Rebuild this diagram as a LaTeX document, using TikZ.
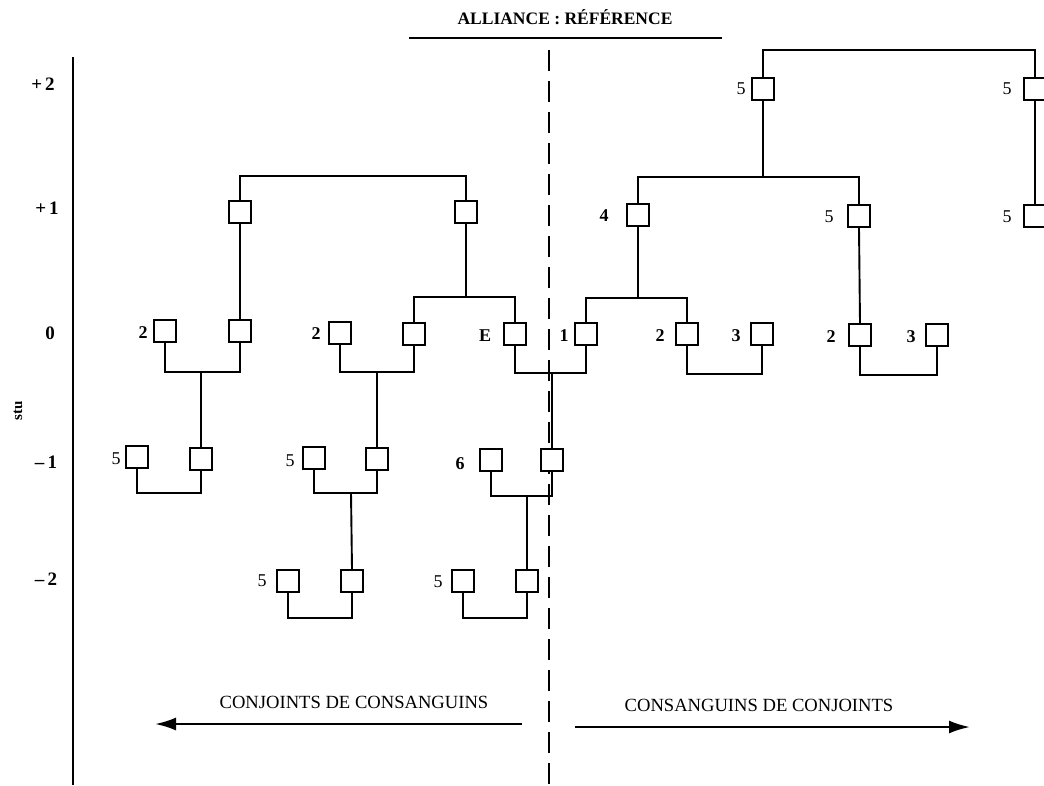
\documentclass[tikz,border=0pt]{standalone}
\usepackage{fontspec}
\setmainfont{Liberation Serif}
\usetikzlibrary{arrows.meta}

\begin{document}
\begin{tikzpicture}[x=1pt,y=-1pt,
  pbox/.style={draw, line width=1.9pt, minimum size=22pt, inner sep=0pt, fill=white},
  num/.style={font=\bfseries\fontsize{18}{18}\selectfont, inner sep=0pt},
  fivenum/.style={font=\fontsize{18}{18}\selectfont, inner sep=0pt},
  lvl/.style={font=\bfseries\fontsize{19}{19}\selectfont, inner sep=0pt},
  kin/.style={line width=1.9pt},
  dir/.style={line width=2.4pt},
  dirtext/.style={font=\fontsize{18.6}{18}\selectfont, inner sep=0pt}]

\useasboundingbox (0,0) rectangle (1044,785);

% generation axis
\coordinate (axT) at (73,57);
\coordinate (axB) at (73,785);
\draw[line width=2.8pt] (axT) -- (axB);
\node[lvl] (g2)  at (43,84)  {+\,2};
\node[lvl] (g1)  at (47,208) {+\,1};
\node[lvl] (g0)  at (50,333) {0};
\node[lvl] (gm1) at (46,462) {–\,1};
\node[lvl] (gm2) at (46,579) {–\,2};
\node[font=\bfseries\fontsize{15}{15}\selectfont, rotate=90, inner sep=0pt] (stu) at (18,411) {stu};

% heading
\node[font=\bfseries\fontsize{17.5}{17.5}\selectfont, inner sep=0pt] (title) at (565,17) {ALLIANCE : RÉFÉRENCE};
\coordinate (ulL) at (409,38);
\coordinate (ulR) at (722,38);
\draw[line width=2.4pt] (ulL) -- (ulR);

% dividing line
\coordinate (dvT) at (549,50);
\coordinate (dvB) at (549,785);
\draw[line width=2.8pt, dash pattern=on 21pt off 10pt] (dvT) -- (dvB);

% ---------- persons ----------
% generation +2
\node[pbox] (R2a) at (763,89) {};   \node[fivenum] (R2a-l) at (741,89) {5};
\node[pbox] (R2b) at (1035,89) {};  \node[fivenum] (R2b-l) at (1007,89) {5};
% generation +1
\node[pbox] (L1a) at (240,212) {};
\node[pbox] (L1b) at (466,212) {};
\node[pbox] (R1a) at (638,215) {};  \node[num] (R1a-l) at (604,216) {4};
\node[pbox] (R1b) at (859,216) {};  \node[fivenum] (R1b-l) at (829,217) {5};
\node[pbox] (R1c) at (1035,216) {}; \node[fivenum] (R1c-l) at (1007,217) {5};
% generation 0
\node[pbox] (L0a) at (165,331) {};  \node[num] (L0a-l) at (143,333) {2};
\node[pbox] (L0b) at (240,331) {};
\node[pbox] (L0c) at (340,333) {};  \node[num] (L0c-l) at (316,334) {2};
\node[pbox] (L0d) at (414,334) {};
\node[pbox] (E)   at (515,334) {};  \node[num] (E-l) at (485,336) {E};
\node[pbox] (Z1)  at (586,334) {};  \node[num] (Z1-l) at (564,336) {1};
\node[pbox] (Z2)  at (687,334) {};  \node[num] (Z2-l) at (660,336) {2};
\node[pbox] (Z3)  at (762,334) {};  \node[num] (Z3-l) at (736,336) {3};
\node[pbox] (Z5)  at (860,335) {};  \node[num] (Z5-l) at (831,337) {2};
\node[pbox] (Z6)  at (937,335) {};  \node[num] (Z6-l) at (911,337) {3};
% generation -1
\node[pbox] (M1a) at (137,457) {};  \node[fivenum] (M1a-l) at (116,459) {5};
\node[pbox] (M1b) at (201,459) {};
\node[pbox] (M2a) at (314,458) {};  \node[fivenum] (M2a-l) at (290,461) {5};
\node[pbox] (M2b) at (377,459) {};
\node[pbox] (M3a) at (491,460) {};  \node[num] (M3a-l) at (460,464) {6};
\node[pbox] (M3b) at (552,460) {};
% generation -2
\node[pbox] (N1a) at (288,581) {};  \node[fivenum] (N1a-l) at (262,581) {5};
\node[pbox] (N1b) at (352,581) {};
\node[pbox] (N2a) at (463,581) {};  \node[fivenum] (N2a-l) at (438,582) {5};
\node[pbox] (N2b) at (527,581) {};

% ---------- junction points ----------
\coordinate (jTop) at (900,50);
\coordinate (jR1)  at (763,177);
\coordinate (jL1)  at (353,176);
\coordinate (jL0)  at (466,297);
\coordinate (jR0)  at (638,298);
\coordinate (cA)   at (201,372);
\coordinate (cB)   at (377,372);
\coordinate (cC)   at (552,373);
\coordinate (cD)   at (724,374);
\coordinate (cE)   at (898,375);
\coordinate (cF)   at (169,493);
\coordinate (cG)   at (351,493);
\coordinate (cH)   at (527,496);
\coordinate (cI)   at (320,618);
\coordinate (cJ)   at (495,618);

% ---------- descent and alliance lines ----------
\draw[kin] (R2a.north) |- (jTop) -| (R2b.north);
\draw[kin] (R2a.south) -- (jR1);
\draw[kin] (R1a.north) |- (jR1) -| (R1b.north);
\draw[kin] (R2b.south) -- (R1c.north);

\draw[kin] (L1a.north) |- (jL1) -| (L1b.north);
\draw[kin] (L1a.south) -- (L0b.north);
\draw[kin] (L1b.south) -- (jL0);
\draw[kin] (L0d.north) |- (jL0) -| (E.north);

\draw[kin] (R1a.south) -- (jR0);
\draw[kin] (Z1.north) |- (jR0) -| (Z2.north);
\draw[kin] (R1b.south) -- (Z5.north);

\draw[kin] (L0a.south) |- (cA) -| (L0b.south);
\draw[kin] (cA) -- (M1b.north);
\draw[kin] (L0c.south) |- (cB) -| (L0d.south);
\draw[kin] (cB) -- (M2b.north);
\draw[kin] (E.south) |- (cC) -| (Z1.south);
\draw[kin] (cC) -- (M3b.north);
\draw[kin] (Z2.south) |- (cD) -| (Z3.south);
\draw[kin] (Z5.south) |- (cE) -| (Z6.south);

\draw[kin] (M1a.south) |- (cF) -| (M1b.south);
\draw[kin] (M2a.south) |- (cG) -| (M2b.south);
\draw[kin] (cG) -- (N1b.north);
\draw[kin] (M3a.south) |- (cH) -| (M3b.south);
\draw[kin] (cH) -- (N2b.north);

\draw[kin] (N1a.south) |- (cI) -| (N1b.south);
\draw[kin] (N2a.south) |- (cJ) -| (N2b.south);

% ---------- direction arrows ----------
\node[dirtext] (capL) at (354,702) {CONJOINTS DE CONSANGUINS};
\node[dirtext] (capR) at (759,705) {CONSANGUINS DE CONJOINTS};
\coordinate (aLs) at (522,724);
\coordinate (aLe) at (155,724);
\coordinate (aRs) at (575,727);
\coordinate (aRe) at (970,727);
\draw[dir, -{Latex[length=21pt,width=13pt]}] (aLs) -- (aLe);
\draw[dir, -{Latex[length=21pt,width=13pt]}] (aRs) -- (aRe);
\end{tikzpicture}
\end{document}
